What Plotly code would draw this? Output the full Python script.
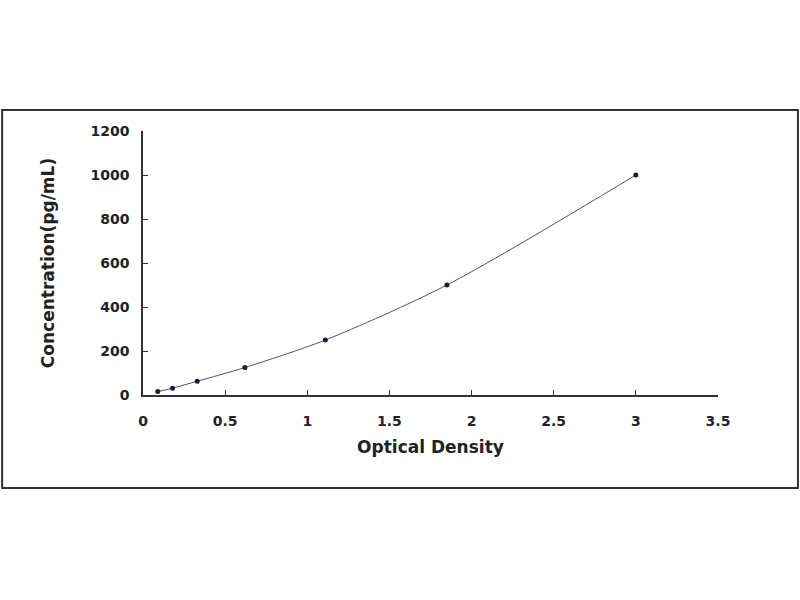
import plotly.graph_objects as go

# Standard curve
optical_density = [0.09, 0.18, 0.33, 0.62, 1.11, 1.85, 3.0]
concentration = [15.6, 31.25, 62.5, 125, 250, 500, 1000]

x_ticks = [0, 0.5, 1, 1.5, 2, 2.5, 3, 3.5]
x_tick_labels = ['0', '0.5', '1', '1.5', '2', '2.5', '3', '3.5']
y_ticks = [0, 200, 400, 600, 800, 1000, 1200]

font_family = 'DejaVu Sans, Liberation Sans, Arial, sans-serif'

fig = go.Figure()

# fitted curve
fig.add_trace(go.Scatter(
    x=optical_density,
    y=concentration,
    mode='lines',
    line=dict(color='#555555', width=1, shape='spline', smoothing=0.8),
    hoverinfo='skip',
))

# standard points
fig.add_trace(go.Scatter(
    x=optical_density,
    y=concentration,
    mode='markers',
    marker=dict(color='#1a1a40', size=5, symbol='circle'),
    hovertemplate='OD: %{x}<br>Conc: %{y} pg/mL<extra></extra>',
))

fig.update_layout(
    width=800,
    height=600,
    paper_bgcolor='white',
    plot_bgcolor='white',
    showlegend=False,
    margin=dict(l=143, r=82, t=131, b=205),
    font=dict(family=font_family, size=14, color='#222222'),
)

fig.update_xaxes(
    range=[0, 3.5],
    tickvals=x_ticks,
    ticktext=[f'<b>{t}</b>' for t in x_tick_labels],
    ticks='inside',
    ticklen=5,
    tickcolor='#333333',
    showline=True,
    linecolor='#333333',
    linewidth=1.5,
    showgrid=False,
    zeroline=False,
    ticklabelstandoff=12,
    title=dict(text='<b>Optical Density</b>', font=dict(size=17), standoff=14),
)

fig.update_yaxes(
    range=[0, 1200],
    tickvals=y_ticks,
    ticktext=[f'<b>{t}</b>' for t in y_ticks],
    ticks='inside',
    ticklen=5,
    tickcolor='#333333',
    showline=True,
    linecolor='#333333',
    linewidth=1.5,
    showgrid=False,
    zeroline=False,
    ticklabelstandoff=9,
    title=dict(text='<b>Concentration(pg/mL)</b>', font=dict(size=17), standoff=32),
)

# outer frame around the chart
fig.add_shape(
    type='rect', xref='paper', yref='paper',
    x0=-0.245, x1=1.139, y0=-0.352, y1=1.0795,
    line=dict(color='#333333', width=2),
)

# drop the page's default body margin so the figure sits at the window corner
fig.write_html(
    'out.html',
    config={'displayModeBar': False},
    post_script="document.body.style.margin='0';",
)
